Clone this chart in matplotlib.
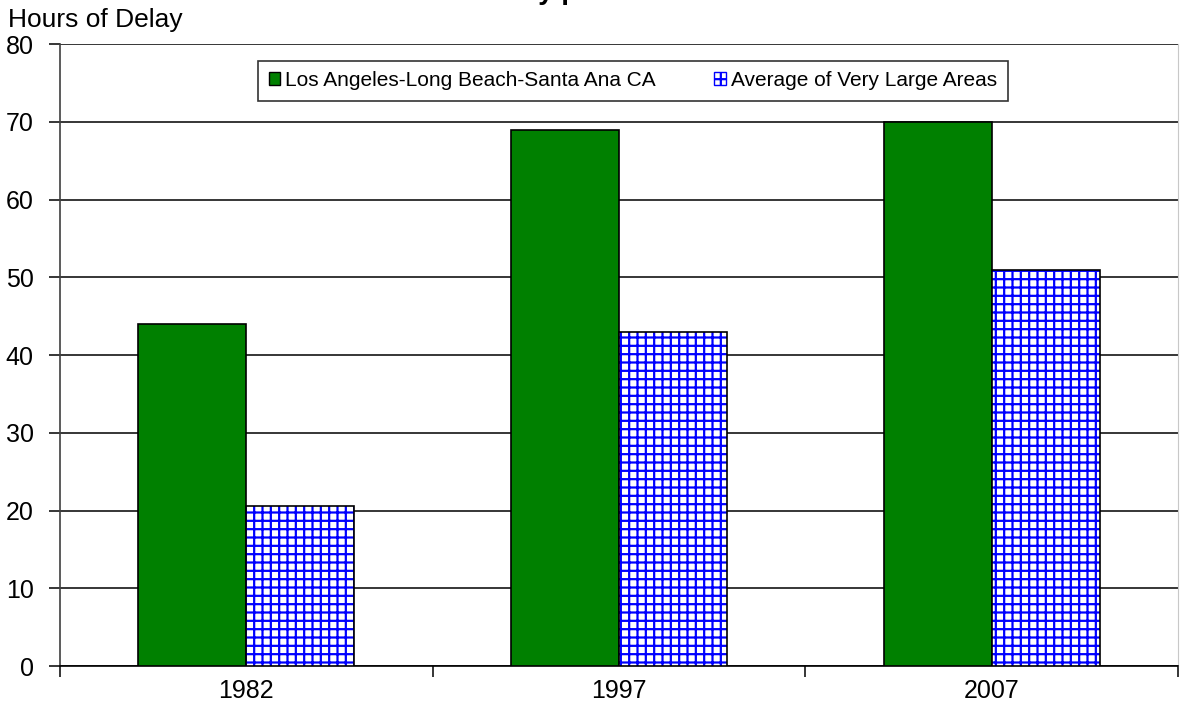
import numpy as np
import matplotlib.pyplot as plt
from matplotlib.patches import Patch

plt.rcParams['font.family'] = ['Liberation Sans', 'DejaVu Sans']
plt.rcParams['hatch.linewidth'] = 1.6

# Data
years = ['1982', '1997', '2007']
la_delay = [44, 69, 70]
large_avg = [20.6, 43, 51]
series_names = ['Los Angeles-Long Beach-Santa Ana CA', 'Average of Very Large Areas']
title = 'Annual Delay per Peak-Period Traveler'

fig = plt.figure(figsize=(11.93, 7.23), dpi=100)
ax = fig.add_axes([0.0503, 0.0788, 0.9371, 0.8603])

x = np.arange(len(years))
w = 0.29

ax.bar(x - w / 2, la_delay, w, color='#008000', edgecolor='black', linewidth=1.2, zorder=3)
# hatched bars: blue grid, then black outline on top
ax.bar(x + w / 2, large_avg, w, color='white', edgecolor='#0000ff', hatch='++',
       linewidth=0, zorder=3)
ax.bar(x + w / 2, large_avg, w, fill=False, edgecolor='black', linewidth=1.2, zorder=4)

ax.set_xlim(-0.5, 2.5)
ax.set_ylim(0, 80)
ax.set_yticks(range(0, 81, 10))
ax.yaxis.grid(True, color='black', linewidth=1.1, zorder=1)
ax.set_axisbelow(True)

# category labels centred, tick marks on the boundaries
ax.set_xticks(x)
ax.set_xticklabels(years, fontsize=18)
ax.tick_params(axis='x', which='major', length=0, pad=9)
ax.set_xticks(np.arange(-0.5, 3.0, 1.0), minor=True)
ax.tick_params(axis='x', which='minor', length=8, direction='out', width=1.1)
ax.tick_params(axis='y', labelsize=18, length=8, direction='out', width=1.1, pad=11)

ax.spines['top'].set_visible(False)
ax.spines['right'].set_color('#c8c8c8')
ax.spines['left'].set_color('#404040')
ax.spines['left'].set_linewidth(1.2)
ax.spines['bottom'].set_linewidth(1.2)

handles = [Patch(facecolor='#008000', edgecolor='black'),
           Patch(facecolor='white', edgecolor='#0000ff', hatch='++')]
leg = ax.legend(handles, series_names, loc='upper center', bbox_to_anchor=(0.5125, 0.99),
                ncol=2, fontsize=15, frameon=True, fancybox=False, edgecolor='black',
                handlelength=0.55, handleheight=0.55, handletextpad=0.25,
                columnspacing=2.8, borderpad=0.5)
leg.get_frame().set_linewidth(1.2)

fig.text(0.007, 0.963, 'Hours of Delay', fontsize=19, ha='left', va='baseline')
# title sits above the top edge: only its descenders show, as in the original
fig.text(0.53, 1.0015, title, fontsize=20, fontweight='bold', ha='center', va='baseline')

fig.savefig('out.png', dpi=100)
